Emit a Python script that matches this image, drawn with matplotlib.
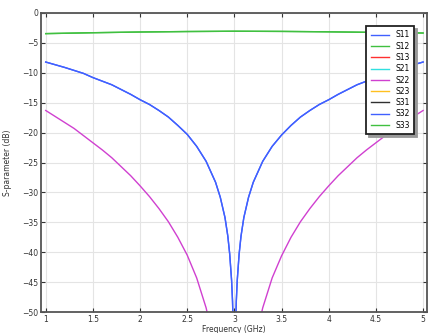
import matplotlib
matplotlib.use("Agg")
import matplotlib.pyplot as plt
import numpy as np

# frequency grid (GHz)
freq = [1.0, 1.1, 1.2, 1.3, 1.4, 1.5, 1.6, 1.7, 1.8, 1.9, 2.0, 2.1, 2.2, 2.3, 2.4, 2.5,
        2.6, 2.7, 2.8, 2.85, 2.9, 2.93, 2.95, 2.97, 2.98, 2.99, 3.0,
        3.01, 3.02, 3.03, 3.05, 3.07, 3.1, 3.15, 3.2, 3.3, 3.4, 3.5, 3.6, 3.7, 3.8, 3.9,
        4.0, 4.1, 4.2, 4.3, 4.4, 4.5, 4.6, 4.7, 4.8, 4.9, 5.0]

s11 = [-8.2, -8.65, -9.1, -9.6, -10.1, -10.8, -11.4, -12.0, -12.8, -13.6, -14.5, -15.3,
       -16.3, -17.4, -18.8, -20.3, -22.3, -24.8, -28.3, -30.8, -34.2, -37.3, -40.3, -44.7,
       -48.2, -54.2, -70.0,
       -54.2, -48.2, -44.7, -40.3, -37.3, -34.2, -30.8, -28.3, -24.8, -22.3, -20.4, -18.8,
       -17.4, -16.3, -15.3, -14.5, -13.6, -12.8, -12.0, -11.4, -10.8, -10.1, -9.6, -9.1,
       -8.65, -8.2]

s22_f = [1.0, 1.1, 1.2, 1.3, 1.4, 1.5, 1.6, 1.7, 1.8, 1.9, 2.0, 2.1, 2.2, 2.3, 2.4, 2.5,
         2.6, 2.7, 2.8, 3.2, 3.3, 3.4, 3.5, 3.6, 3.7, 3.8, 3.9, 4.0, 4.1, 4.2, 4.3, 4.4,
         4.5, 4.6, 4.7, 4.8, 4.9, 5.0]
s22 = [-16.3, -17.3, -18.3, -19.3, -20.5, -21.7, -22.9, -24.2, -25.7, -27.2, -28.9, -30.7,
       -32.7, -34.9, -37.5, -40.5, -44.3, -49.3, -56.3, -56.3, -49.3, -44.3, -40.6, -37.5,
       -34.9, -32.7, -30.7, -28.9, -27.2, -25.7, -24.2, -22.9, -21.7, -20.5, -19.3, -18.3,
       -17.3, -16.3]

s33_f = [1.0, 1.5, 2.0, 2.5, 3.0, 3.5, 4.0, 4.5, 5.0]
s33 = [-3.45, -3.3, -3.18, -3.1, -3.05, -3.08, -3.15, -3.25, -3.35]

names = ["S11", "S12", "S13", "S21", "S22", "S23", "S31", "S32", "S33"]
colors = ["#4060ff", "#40c040", "#ff3030", "#30e0e0", "#d040d0", "#ffc020", "#303030",
          "#4060ff", "#40c040"]

fig = plt.figure(figsize=(4.39, 3.33), dpi=100)
ax = fig.add_axes([0.0934, 0.063, 0.879, 0.898])

series = {"S11": (freq, s11), "S12": (s33_f, s33), "S22": (s22_f, s22),
          "S32": (freq, s11), "S33": (s33_f, s33)}
for n, c in zip(names, colors):
    if n in series:
        ax.plot(series[n][0], series[n][1], color=c, lw=1.0, label=n)
    else:
        ax.plot([], [], color=c, lw=1.0, label=n)

ax.set_xlim(0.95, 5.04)
ax.set_ylim(-50, 0)
ax.set_xticks([1, 1.5, 2, 2.5, 3, 3.5, 4, 4.5, 5])
ax.set_xticklabels(["1", "1.5", "2", "2.5", "3", "3.5", "4", "4.5", "5"])
ax.set_yticks(np.arange(-50, 1, 5))
ax.grid(color="#e4e4e4", lw=0.8)
ax.set_axisbelow(True)
ax.tick_params(direction="in", length=3, labelsize=5.5, colors="#333333",
               top=True, right=True, pad=2)
for sp in ax.spines.values():
    sp.set_color("#555555")
    sp.set_linewidth(1.3)

ax.set_xlabel("Frequency (GHz)", fontsize=5.5, color="#333333", labelpad=1)
ax.set_ylabel("S-parameter (dB)", fontsize=5.5, color="#333333", labelpad=7)

leg = ax.legend(loc="upper right", fontsize=5.5, frameon=True, fancybox=False,
                handlelength=2.4, handletextpad=0.8, borderpad=0.6, labelspacing=0.3,
                bbox_to_anchor=(0.977, 0.97),
                shadow={"color": "#999999", "alpha": 1, "ox": 2, "oy": -2})
leg.get_frame().set_edgecolor("#222222")
leg.get_frame().set_linewidth(1.3)
leg.get_frame().set_alpha(1)

fig.savefig("out.png", dpi=100)
